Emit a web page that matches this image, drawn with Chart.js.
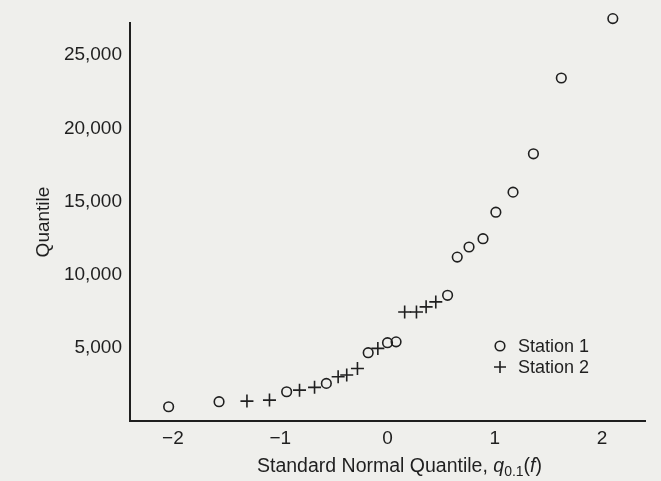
<!DOCTYPE html>
<html>
<head>
<meta charset="utf-8">
<script src="https://cdn.jsdelivr.net/npm/chart.js@4.4.1/dist/chart.umd.min.js"></script>
<style>
    html, body { margin: 0; padding: 0; background: #efefec; }
    canvas { display: block; }
</style>
</head>
<body>
<canvas id="qqChart" width="661" height="481"></canvas>
<script>
// Q-Q plot: sample quantiles of two stations vs standard normal quantiles

const xTicks = [-2, -1, 0, 1, 2];
const yTicks = [5000, 10000, 15000, 20000, 25000];

// Station 1 (circles)
const station1X = [-2.04, -1.57, -0.94, -0.57, -0.18, 0.00, 0.08, 0.56, 0.65, 0.76, 0.89, 1.01, 1.17, 1.36, 1.62, 2.10];
const station1Y = [975, 1320, 2000, 2570, 4670, 5350, 5410, 8590, 11200, 11890, 12460, 14270, 15640, 18260, 23440, 27500];

// Station 2 (crosses)
const station2X = [-1.31, -1.10, -0.82, -0.68, -0.46, -0.38, -0.28, -0.09, 0.16, 0.27, 0.36, 0.45];
const station2Y = [1360, 1430, 2110, 2300, 3020, 3140, 3590, 4960, 7450, 7450, 7800, 8140];

const seriesLabels = ['Station 1', 'Station 2'];
const INK = '#1f1f1f';
const FONT = "'Liberation Sans', Arial, sans-serif";

const toPoints = (xs, ys) => xs.map((x, i) => ({ x, y: ys[i] }));

// Draws the x-axis title with italic q, subscript 0.1 and italic f
const xTitlePlugin = {
    id: 'xTitle',
    afterDraw(chart) {
        const { ctx, chartArea } = chart;
        const parts = [
            { t: 'Standard Normal Quantile, ', f: `19.5px ${FONT}`, dy: 0 },
            { t: 'q', f: `italic 19.5px ${FONT}`, dy: 0 },
            { t: '0.1', f: `14px ${FONT}`, dy: 4 },
            { t: '(', f: `19.5px ${FONT}`, dy: 0 },
            { t: 'f', f: `italic 19.5px ${FONT}`, dy: 0 },
            { t: ')', f: `19.5px ${FONT}`, dy: 0 },
        ];
        ctx.save();
        ctx.fillStyle = INK;
        ctx.textBaseline = 'alphabetic';
        ctx.textAlign = 'left';
        let total = 0;
        parts.forEach(p => { ctx.font = p.f; p.w = ctx.measureText(p.t).width; total += p.w; });
        let x = (chartArea.left + chartArea.right) / 2 + 12 - total / 2;
        const base = chartArea.bottom + 51;
        parts.forEach(p => {
            ctx.font = p.f;
            ctx.fillText(p.t, x, base + p.dy);
            x += p.w;
        });
        ctx.restore();
    }
};

// Legend inside the plot area, lower right
const legendPlugin = {
    id: 'innerLegend',
    afterDraw(chart) {
        const { ctx, chartArea } = chart;
        const mx = chartArea.left + 370;
        const y1 = chartArea.top + 323;
        const y2 = y1 + 21;
        ctx.save();
        ctx.strokeStyle = INK;
        ctx.lineWidth = 1.6;
        ctx.beginPath();
        ctx.arc(mx, y1, 4.8, 0, Math.PI * 2);
        ctx.stroke();
        ctx.beginPath();
        ctx.moveTo(mx - 6, y2); ctx.lineTo(mx + 6, y2);
        ctx.moveTo(mx, y2 - 6); ctx.lineTo(mx, y2 + 6);
        ctx.stroke();
        ctx.fillStyle = INK;
        ctx.font = `18px ${FONT}`;
        ctx.textBaseline = 'middle';
        ctx.fillText(seriesLabels[0], mx + 18, y1 + 1);
        ctx.fillText(seriesLabels[1], mx + 18, y2 + 1);
        ctx.restore();
    }
};

const ctx = document.getElementById('qqChart').getContext('2d');
new Chart(ctx, {
    type: 'scatter',
    data: {
        datasets: [
            {
                label: seriesLabels[0],
                data: toPoints(station1X, station1Y),
                pointStyle: 'circle',
                pointRadius: 4.8,
                pointBorderWidth: 1.6,
                borderColor: INK,
                backgroundColor: 'rgba(0,0,0,0)',
                clip: false,
            },
            {
                label: seriesLabels[1],
                data: toPoints(station2X, station2Y),
                pointStyle: 'cross',
                pointRadius: 6.5,
                pointBorderWidth: 1.6,
                borderColor: INK,
                backgroundColor: INK,
                clip: false,
            },
        ],
    },
    options: {
        responsive: false,
        animation: false,
        layout: { padding: { top: 23, right: 16, left: 0, bottom: 0 } },
        plugins: {
            legend: { display: false },
            tooltip: { enabled: false },
        },
        scales: {
            x: {
                type: 'linear',
                min: -2.4,
                max: 2.4,
                grid: { display: false, drawTicks: false },
                border: { display: true, color: INK, width: 2 },
                afterBuildTicks: axis => { axis.ticks = xTicks.map(v => ({ value: v })); },
                afterFit: axis => { axis.height = 60; },
                ticks: {
                    padding: 6,
                    color: INK,
                    font: { family: FONT, size: 19 },
                    callback: v => (v < 0 ? '\u2212' + Math.abs(v) : String(v)),
                },
                title: { display: false },
            },
            y: {
                type: 'linear',
                min: 0,
                max: 27200,
                grid: { display: false, drawTicks: false },
                border: { display: true, color: INK, width: 2 },
                afterBuildTicks: axis => { axis.ticks = yTicks.map(v => ({ value: v })); },
                afterFit: axis => { axis.width = 130; },
                ticks: {
                    padding: 8,
                    color: INK,
                    font: { family: FONT, size: 19 },
                    callback: v => v.toLocaleString('en-US'),
                },
                title: {
                    display: true,
                    text: 'Quantile',
                    color: INK,
                    font: { family: FONT, size: 19 },
                    padding: { top: 32, bottom: 0 },
                },
            },
        },
    },
    plugins: [xTitlePlugin, legendPlugin],
});
</script>
</body>
</html>
